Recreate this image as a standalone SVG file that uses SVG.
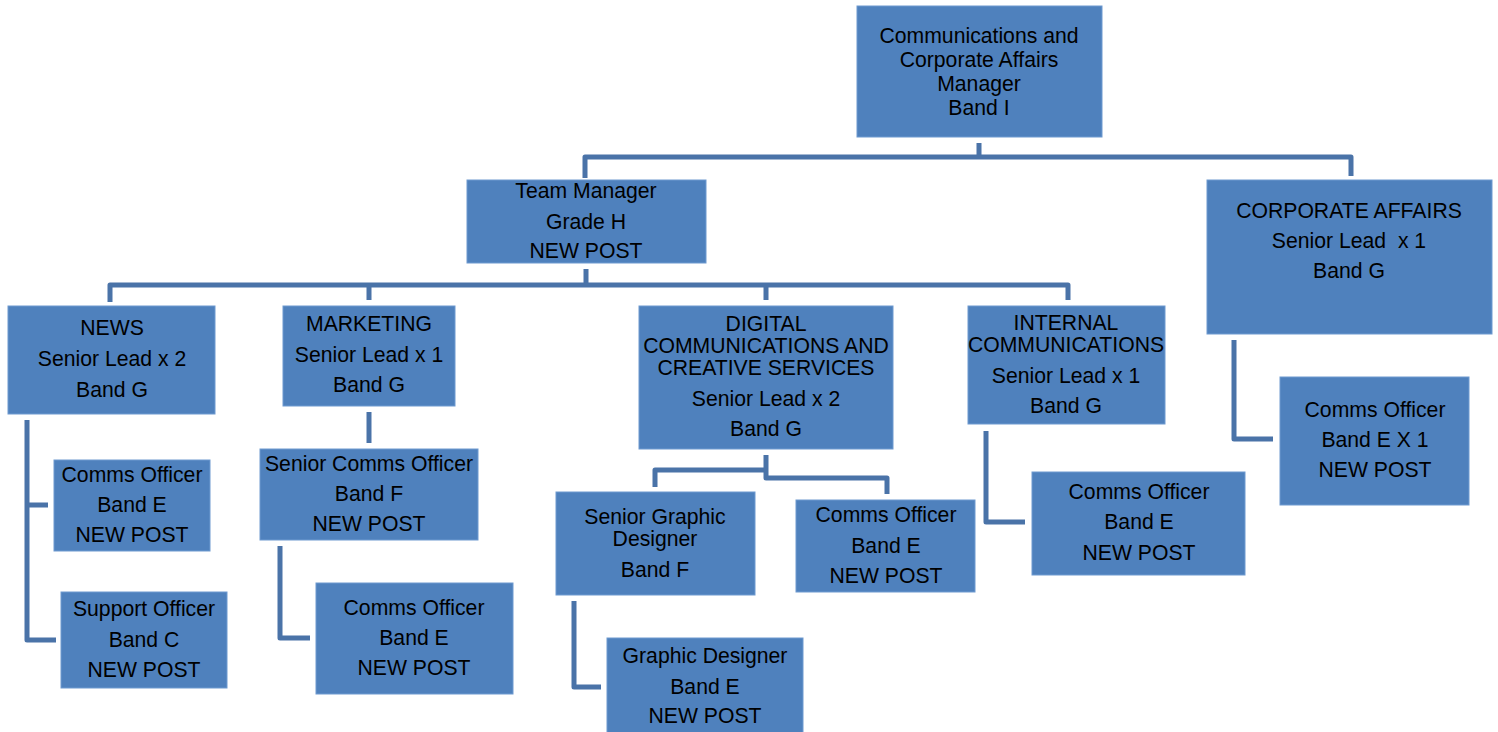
<svg xmlns="http://www.w3.org/2000/svg" width="1498" height="732" viewBox="0 0 1498 732">
<style>
.box{fill:#4F81BD;stroke:#6E9AD0;stroke-width:1}
.t{font-family:"Liberation Sans",Arial,sans-serif;font-size:21.2px;fill:#000;text-anchor:middle;dominant-baseline:central}
.c{fill:none;stroke:#4A73A8;stroke-width:5;stroke-linejoin:round}
</style>
<rect width="1498" height="732" fill="#fff"/>
<g id="connectors">
<path class="c" d="M979 143V157M585 178V157H1351V176"/>
<path class="c" d="M586 269V285M110 302V285H1068V300M369 285V300M766 285V300"/>
<path class="c" d="M27 420V640H56M27 505H48"/>
<path class="c" d="M369 412V443"/>
<path class="c" d="M280 546V638H310"/>
<path class="c" d="M766 455V478H887V494M766 470H655V487"/>
<path class="c" d="M574 601V687H601"/>
<path class="c" d="M986 431V522H1025"/>
<path class="c" d="M1234 340V439H1273"/>
</g>
<g id="n-top"><rect class="box" x="857" y="6" width="245" height="131"/>
<text class="t" x="979" y="35">Communications and</text><text class="t" x="979" y="59">Corporate Affairs</text><text class="t" x="979" y="83">Manager</text><text class="t" x="979" y="107">Band I</text></g>
<g id="n-team"><rect class="box" x="467" y="180" width="239" height="83"/>
<text class="t" x="586" y="190">Team Manager</text><text class="t" x="586" y="221">Grade H</text><text class="t" x="586" y="250">NEW POST</text></g>
<g id="n-corp"><rect class="box" x="1207" y="180" width="285" height="154"/>
<text class="t" x="1349" y="210">CORPORATE AFFAIRS</text><text class="t" x="1349" y="240" xml:space="preserve">Senior Lead  x 1</text><text class="t" x="1349" y="270">Band G</text></g>
<g id="n-news"><rect class="box" x="8" y="306" width="207" height="108"/>
<text class="t" x="112" y="327">NEWS</text><text class="t" x="112" y="358">Senior Lead x 2</text><text class="t" x="112" y="389">Band G</text></g>
<g id="n-marketing"><rect class="box" x="283" y="306" width="172" height="100"/>
<text class="t" x="369" y="323">MARKETING</text><text class="t" x="369" y="354">Senior Lead x 1</text><text class="t" x="369" y="384">Band G</text></g>
<g id="n-digital"><rect class="box" x="639" y="306" width="254" height="143"/>
<text class="t" x="766" y="323">DIGITAL</text><text class="t" x="766" y="345">COMMUNICATIONS AND</text><text class="t" x="766" y="367">CREATIVE SERVICES</text><text class="t" x="766" y="398">Senior Lead x 2</text><text class="t" x="766" y="428">Band G</text></g>
<g id="n-internal"><rect class="box" x="968" y="306" width="197" height="118"/>
<text class="t" x="1066" y="322">INTERNAL</text><text class="t" x="1066" y="344">COMMUNICATIONS</text><text class="t" x="1066" y="375">Senior Lead x 1</text><text class="t" x="1066" y="405">Band G</text></g>
<g id="n-news-comms"><rect class="box" x="54" y="460" width="156" height="91"/>
<text class="t" x="132" y="474">Comms Officer</text><text class="t" x="132" y="504">Band E</text><text class="t" x="132" y="534">NEW POST</text></g>
<g id="n-support"><rect class="box" x="61" y="592" width="166" height="96"/>
<text class="t" x="144" y="608">Support Officer</text><text class="t" x="144" y="639">Band C</text><text class="t" x="144" y="669">NEW POST</text></g>
<g id="n-senior-comms"><rect class="box" x="260" y="449" width="218" height="91"/>
<text class="t" x="369" y="463">Senior Comms Officer</text><text class="t" x="369" y="493">Band F</text><text class="t" x="369" y="523">NEW POST</text></g>
<g id="n-mkt-comms"><rect class="box" x="316" y="583" width="197" height="111"/>
<text class="t" x="414" y="607">Comms Officer</text><text class="t" x="414" y="637">Band E</text><text class="t" x="414" y="667">NEW POST</text></g>
<g id="n-senior-graphic"><rect class="box" x="556" y="492" width="199" height="103"/>
<text class="t" x="655" y="516">Senior Graphic</text><text class="t" x="655" y="538">Designer</text><text class="t" x="655" y="569">Band F</text></g>
<g id="n-digital-comms"><rect class="box" x="796" y="500" width="179" height="92"/>
<text class="t" x="886" y="514">Comms Officer</text><text class="t" x="886" y="545">Band E</text><text class="t" x="886" y="575">NEW POST</text></g>
<g id="n-graphic"><rect class="box" x="607" y="638" width="196" height="96"/>
<text class="t" x="705" y="655">Graphic Designer</text><text class="t" x="705" y="686">Band E</text><text class="t" x="705" y="715">NEW POST</text></g>
<g id="n-internal-comms"><rect class="box" x="1032" y="472" width="213" height="103"/>
<text class="t" x="1139" y="491">Comms Officer</text><text class="t" x="1139" y="521">Band E</text><text class="t" x="1139" y="552">NEW POST</text></g>
<g id="n-corp-comms"><rect class="box" x="1280" y="377" width="189" height="128"/>
<text class="t" x="1375" y="409">Comms Officer</text><text class="t" x="1375" y="439">Band E X 1</text><text class="t" x="1375" y="469">NEW POST</text></g>
</svg>
